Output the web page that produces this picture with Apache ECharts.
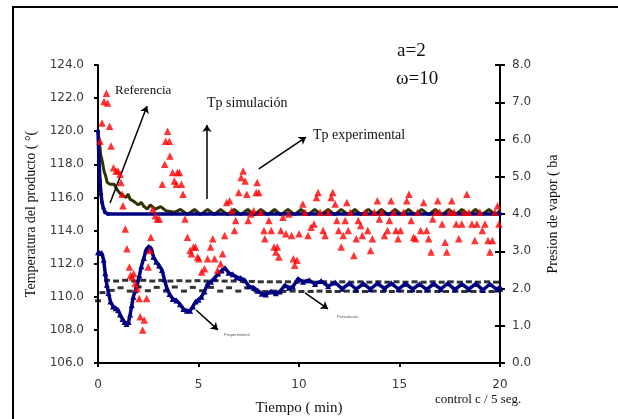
<!DOCTYPE html>
<html lang="es">
<head>
    <meta charset="UTF-8">
    <title>Tp / Presion de vapor</title>
    <style>
        html, body {margin: 0; padding: 0; background: #fff;}
        #chart {width: 618px; height: 419px;}
    </style>
</head>
<body>
<div id="chart"></div>
<script src="https://cdn.jsdelivr.net/npm/echarts@6/dist/echarts.min.js"></script>
<script>
    // tiempo (min) y temperatura (°C) / presion (bar)
    let tpExperimental = [
        [0.1, 119.4], [0.2, 120.5], [0.3, 121.8], [0.42, 122.3], [0.48, 121.7], [0.58, 120.3], [0.65, 119.1],
        [0.77, 117.8], [0.9, 117.6], [1.0, 117.6], [1.1, 117.4], [1.14, 116.9], [1.2, 116.2], [1.24, 115.5],
        [1.36, 114.1], [1.44, 112.9], [1.56, 111.8], [1.62, 111.3], [1.7, 111.2], [1.78, 111.4], [1.85, 110.8],
        [1.95, 110.5], [2.05, 109.9], [2.1, 108.8], [2.22, 108.0], [2.3, 108.6], [2.42, 109.9], [2.5, 111.8],
        [2.58, 112.8], [2.63, 113.6], [2.73, 115.3], [2.85, 114.9], [2.95, 114.7], [3.05, 114.7], [3.2, 116.8],
        [3.32, 118.0], [3.36, 119.4], [3.46, 120.0], [3.55, 119.4], [3.58, 118.5], [3.71, 117.5], [3.8, 117.0],
        [3.9, 116.8], [3.95, 117.5], [4.05, 117.5], [4.15, 116.8], [4.23, 116.2], [4.33, 114.7], [4.45, 113.6],
        [4.58, 112.8], [4.65, 112.6], [4.75, 113.0], [4.85, 113.0], [4.95, 112.4], [5.02, 112.3], [5.16, 111.5],
        [5.3, 111.7], [5.45, 112.3], [5.6, 113.0], [5.71, 113.5], [5.8, 112.3], [5.95, 111.6], [6.1, 112.0],
        [6.2, 112.6], [6.3, 113.7], [6.4, 115.7], [6.55, 115.8], [6.65, 115.2], [6.79, 114.0], [6.85, 114.6],
        [7.0, 116.3], [7.12, 117.2], [7.22, 117.6], [7.32, 117.0], [7.4, 116.2], [7.47, 114.6], [7.6, 115.0],
        [7.75, 115.2], [7.87, 116.3], [7.92, 116.9], [8.0, 116.3], [8.1, 115.1], [8.26, 114.0], [8.3, 113.5],
        [8.5, 114.6], [8.62, 114.0], [8.76, 113.0], [8.85, 112.7], [8.92, 113.0], [9.0, 112.4], [9.1, 114.0],
        [9.2, 114.8], [9.35, 113.8], [9.5, 115.0], [9.63, 113.7], [9.72, 112.3], [9.79, 111.9], [9.9, 112.2],
        [10.0, 113.8], [10.19, 115.6], [10.3, 115.1], [10.45, 113.7], [10.6, 114.2], [10.75, 114.4], [10.87, 116.0],
        [10.95, 116.3], [11.05, 115.1], [11.2, 114.0], [11.3, 113.7], [11.45, 115.1], [11.6, 116.0], [11.68, 116.3],
        [11.8, 115.6], [11.88, 114.6], [11.97, 114.0], [12.1, 113.0], [12.2, 113.7], [12.3, 114.6], [12.38, 115.7],
        [12.45, 114.0], [12.55, 115.1], [12.73, 112.5], [12.85, 113.5], [12.95, 114.6], [13.07, 114.3], [13.15, 113.7],
        [13.3, 115.1], [13.42, 114.0], [13.56, 112.8], [13.65, 113.5], [13.75, 115.1], [13.9, 115.8], [14.0, 114.7],
        [14.12, 115.1], [14.25, 113.7], [14.4, 114.0], [14.5, 114.6], [14.58, 115.8], [14.7, 115.1], [14.82, 114.0],
        [14.93, 113.5], [15.05, 114.0], [15.2, 115.1], [15.36, 115.8], [15.47, 116.2], [15.58, 114.6], [15.7, 113.6],
        [15.8, 113.5], [15.9, 115.1], [16.05, 114.0], [16.2, 115.7], [16.35, 114.0], [16.45, 113.5], [16.57, 112.7],
        [16.65, 114.7], [16.8, 115.1], [16.9, 115.8], [17.0, 115.1], [17.12, 114.4], [17.27, 113.3], [17.35, 112.7],
        [17.5, 115.1], [17.6, 115.8], [17.72, 115.1], [17.82, 114.4], [17.95, 113.5], [18.1, 114.4], [18.22, 115.1],
        [18.35, 116.2], [18.45, 115.1], [18.6, 114.4], [18.75, 113.4], [18.85, 114.4], [19.0, 115.1], [19.12, 114.0],
        [19.25, 114.4], [19.4, 113.4], [19.5, 112.7], [19.62, 113.4], [19.75, 115.1], [19.88, 115.5], [19.95, 114.4]
    ];
    let tpSimulacion = [
        [0, 120.0], [0.1, 119.0], [0.13, 118.6], [0.21, 118.2], [0.3, 117.6], [0.38, 117.3], [0.46, 116.9],
        [0.6, 116.8], [0.8, 116.8], [0.96, 116.45], [1.13, 116.2], [1.4, 116.0], [1.5, 116.2], [1.59, 115.9],
        [1.8, 115.75], [2.0, 115.55], [2.15, 115.7], [2.29, 115.45], [2.45, 115.3], [2.6, 115.55], [2.85, 115.3],
        [3.12, 115.45], [3.37, 115.2], [3.8, 115.1], [4.1, 115.28], [4.45, 114.97], [4.8, 115.28], [5.1, 114.96],
        [5.45, 115.28], [5.78, 114.97], [6.1, 115.27], [6.45, 114.96], [6.78, 115.28], [7.1, 114.96], [7.45, 115.27],
        [7.78, 114.95], [8.1, 115.28], [8.45, 114.96], [8.78, 115.27], [9.1, 114.95], [9.45, 115.28], [9.78, 114.96],
        [10.1, 115.27], [10.45, 114.95], [10.78, 115.28], [11.1, 114.96], [11.45, 115.27], [11.78, 114.95], [12.1, 115.28],
        [12.45, 114.96], [12.78, 115.27], [13.1, 114.95], [13.45, 115.28], [13.78, 114.96], [14.1, 115.27], [14.45, 114.95],
        [14.78, 115.28], [15.1, 114.96], [15.45, 115.27], [15.78, 114.95], [16.1, 115.28], [16.45, 114.96], [16.78, 115.27],
        [17.1, 114.95], [17.45, 115.28], [17.78, 114.96], [18.1, 115.27], [18.45, 114.95], [18.78, 115.28], [19.1, 114.96],
        [19.45, 115.27], [19.78, 114.95], [20.0, 115.2]
    ];
    let tpReferencia = [
        [0, 120.0], [0.05, 118.2], [0.1, 117.0], [0.15, 116.2], [0.2, 115.7], [0.27, 115.35], [0.35, 115.1],
        [0.5, 115.0], [20, 115.0]
    ];
    let pExperimental = [
        [0, 2.97], [0.08, 2.95], [0.18, 2.95], [0.28, 2.77], [0.36, 2.41], [0.44, 2.1], [0.52, 1.88], [0.62, 1.65],
        [0.75, 1.52], [0.88, 1.47], [1.0, 1.42], [1.1, 1.3], [1.22, 1.18], [1.32, 1.1], [1.42, 1.05], [1.52, 1.1],
        [1.6, 1.3], [1.68, 1.55], [1.76, 1.78], [1.86, 1.95], [1.96, 2.1], [2.06, 2.35], [2.16, 2.6], [2.28, 2.82],
        [2.4, 3.05], [2.52, 3.12], [2.64, 3.08], [2.76, 2.85], [2.9, 2.72], [3.04, 2.62], [3.18, 2.5], [3.3, 2.25],
        [3.42, 2.02], [3.56, 1.85], [3.72, 1.72], [3.9, 1.68], [4.08, 1.58], [4.25, 1.45], [4.42, 1.4], [4.58, 1.4],
        [4.72, 1.52], [4.86, 1.65], [5.0, 1.7], [5.15, 1.78], [5.3, 1.92], [5.45, 2.12], [5.62, 2.18], [5.8, 2.28],
        [5.98, 2.4], [6.15, 2.48], [6.32, 2.55], [6.5, 2.42], [6.7, 2.38], [6.9, 2.3], [7.1, 2.28], [7.3, 2.22],
        [7.5, 2.06], [7.75, 2.02], [7.95, 1.94], [8.15, 1.86], [8.35, 1.84], [8.6, 1.92], [8.85, 1.87], [9.05, 1.92],
        [9.3, 2.09], [9.5, 2.02], [9.7, 2.05], [9.95, 2.26], [10.2, 2.18], [10.5, 2.22], [10.8, 2.12], [11.1, 2.2],
        [11.45, 2.06], [11.8, 2.16], [12.15, 1.99], [12.5, 2.14], [12.85, 1.98], [13.2, 2.13], [13.55, 1.98],
        [13.9, 2.14], [14.25, 2.0], [14.6, 2.14], [14.95, 1.98], [15.3, 2.13], [15.65, 1.98], [16.0, 2.12],
        [16.35, 1.97], [16.7, 2.13], [17.05, 1.98], [17.4, 2.14], [17.75, 1.97], [18.1, 2.12], [18.45, 1.98],
        [18.8, 2.13], [19.15, 1.96], [19.5, 2.12], [19.85, 1.97], [20.0, 2.05]
    ];
    let pSimulacion = [
        [0, 1.67], [0.22, 1.89], [0.45, 2.22], [0.68, 1.95], [0.9, 2.2], [1.12, 2.02], [1.35, 2.22], [1.58, 1.93],
        [1.8, 2.2], [2.02, 2.04], [2.25, 2.22], [2.48, 1.94], [2.7, 2.2], [2.92, 2.03], [3.15, 2.22], [3.38, 1.93],
        [3.6, 2.2], [3.82, 2.04], [4.05, 2.21], [4.28, 1.93], [4.5, 2.2], [4.72, 2.03], [4.95, 2.21], [5.18, 1.94],
        [5.4, 2.2], [5.62, 2.03], [5.85, 2.21], [6.08, 1.93], [6.3, 2.2], [6.52, 2.02], [6.75, 2.2], [6.98, 1.93],
        [7.2, 2.19], [7.42, 2.02], [7.65, 2.19], [7.88, 1.93], [8.1, 2.18], [8.32, 1.92], [8.55, 2.18], [8.78, 1.93],
        [9.0, 2.18], [9.22, 1.92], [9.45, 2.18], [9.68, 1.93], [9.9, 2.17], [10.12, 1.92], [10.35, 2.18], [10.58, 1.92],
        [10.8, 2.17], [11.02, 1.93], [11.25, 2.18], [11.48, 1.92], [11.7, 2.17], [11.92, 1.92], [12.15, 2.18], [12.38, 1.93],
        [12.6, 2.17], [12.82, 1.92], [13.05, 2.18], [13.28, 1.92], [13.5, 2.17], [13.72, 1.93], [13.95, 2.18], [14.18, 1.92],
        [14.4, 2.17], [14.62, 1.92], [14.85, 2.18], [15.08, 1.93], [15.3, 2.17], [15.52, 1.92], [15.75, 2.18], [15.98, 1.92],
        [16.2, 2.17], [16.42, 1.93], [16.65, 2.18], [16.88, 1.92], [17.1, 2.17], [17.32, 1.92], [17.55, 2.18], [17.78, 1.93],
        [18.0, 2.17], [18.22, 1.92], [18.45, 2.18], [18.68, 1.92], [18.9, 2.17], [19.12, 1.93], [19.35, 2.18], [19.58, 1.92],
        [19.8, 2.17], [20.0, 1.95]
    ];
    // flechas de las anotaciones (tiempo, temperatura)
    let flechas = [
        [[0.6, 115.67], [2.44, 121.52]],
        [[5.42, 115.9], [5.42, 120.38]],
        [[8.0, 117.72], [10.35, 119.65]],
        [[4.88, 109.2], [5.97, 108.0]],
        [[10.3, 110.23], [11.44, 109.27]]
    ];

    let serif   = '"Liberation Serif", "Times New Roman", serif';
    let tickTxt = {fontFamily: '"DejaVu Sans", sans-serif', fontSize: 12, color: '#3a3a3a'};
    let black   = {lineStyle: {color: '#000', width: 2}};

    function txt(x, y, text, size, extra) {
        return Object.assign({
            type : 'text', x: x, y: y, z: 100,
            style: {text: text, font: size + 'px ' + serif, fill: '#111', verticalAlign: 'middle'}
        }, extra || {});
    }

    let chart  = echarts.init(document.getElementById('chart'));
    let option = {
        backgroundColor: '#fff',
        animation      : false,
        grid           : {left: 98, right: 118, top: 65, bottom: 56, outerBoundsMode: 'none', containLabel: false},
        xAxis          : {
            type        : 'value', min: 0, max: 20, interval: 5,
            name        : 'Tiempo ( min)', nameLocation: 'middle', nameGap: 38,
            nameTextStyle: {fontFamily: serif, fontSize: 15, color: '#111'},
            axisLine    : black, axisTick: {length: 4, lineStyle: {color: '#000', width: 2}},
            axisLabel   : Object.assign({margin: 16}, tickTxt),
            splitLine   : {show: false}
        },
        yAxis          : [
            {
                type        : 'value', min: 106, max: 124, interval: 2,
                name        : 'Temperatura del producto ( °(', nameLocation: 'middle', nameGap: 59,
                nameTextStyle: {fontFamily: serif, fontSize: 14, color: '#111'},
                axisLine    : black, axisTick: {length: 4, lineStyle: {color: '#000', width: 2}},
                axisLabel   : Object.assign({margin: 14, formatter: v => v.toFixed(1)}, tickTxt),
                splitLine   : {show: false}
            },
            {
                type        : 'value', min: 0, max: 8, interval: 1, position: 'right',
                name        : 'Presion de vapor ( ba', nameLocation: 'middle', nameGap: 46, nameRotate: 90,
                nameTextStyle: {fontFamily: serif, fontSize: 14, color: '#111'},
                axisLine    : {show: true, lineStyle: {color: '#000', width: 2}},
                axisTick    : {length: 5, lineStyle: {color: '#000', width: 2}},
                axisLabel   : Object.assign({margin: 12, formatter: v => v.toFixed(1)}, tickTxt),
                splitLine   : {show: false}
            },
            {
                // marcas hacia dentro del eje derecho
                type     : 'value', min: 0, max: 8, interval: 1, position: 'right',
                axisLine : {show: false},
                axisTick : {inside: true, length: 5, lineStyle: {color: '#000', width: 2}},
                axisLabel: {show: false}, splitLine: {show: false}
            }
        ],
        series         : [
            {
                type     : 'line', data: tpSimulacion, yAxisIndex: 0, showSymbol: false,
                lineStyle: {color: '#333300', width: 3}, z: 2
            },
            {
                type      : 'line', data: tpReferencia, yAxisIndex: 0, symbol: 'circle', symbolSize: 4,
                itemStyle : {color: '#000080'}, lineStyle: {color: '#000080', width: 3.5}, z: 3,
                markLine  : {
                    silent   : true, symbol: ['none', 'arrow'], symbolSize: 7,
                    lineStyle: {color: '#000', width: 1.5, type: 'solid'},
                    label    : {show: false},
                    data     : flechas.map(f => [{coord: f[0]}, {coord: f[1]}])
                }
            },
            {
                type     : 'scatter', data: pSimulacion, yAxisIndex: 1,
                symbol   : 'rect', symbolSize: [6, 3], itemStyle: {color: '#000'}, z: 4
            },
            {
                type     : 'line', data: pExperimental, yAxisIndex: 1, symbol: 'triangle', symbolSize: 6,
                itemStyle: {color: '#000080'}, lineStyle: {color: '#000080', width: 3.5}, z: 5
            },
            {
                type     : 'scatter', data: tpExperimental, yAxisIndex: 0,
                symbol   : 'triangle', symbolSize: 7.5, itemStyle: {color: '#ff0000'}, z: 6
            }
        ],
        graphic        : [
            {
                type : 'rect', shape: {x: 13, y: 7, width: 640, height: 440}, z: 0,
                style: {fill: 'none', stroke: '#000', lineWidth: 2}
            },
            txt(397, 51, 'a=2', 19),
            txt(396, 79, 'ω=10', 19),
            txt(115, 91, 'Referencia', 13),
            txt(207, 103, 'Tp simulación', 14),
            txt(313, 135, 'Tp experimental', 14),
            txt(435, 400, 'control c / 5 seg.', 13),
            txt(224, 335, 'Pexperimental', 4, {style: {text: 'Pexperimental', font: '4px sans-serif', fill: '#555', verticalAlign: 'middle'}}),
            txt(337, 317, 'Psimulación', 4, {style: {text: 'Psimulación', font: '4px sans-serif', fill: '#555', verticalAlign: 'middle'}})
        ]
    };
    chart.setOption(option);
</script>
</body>
</html>
